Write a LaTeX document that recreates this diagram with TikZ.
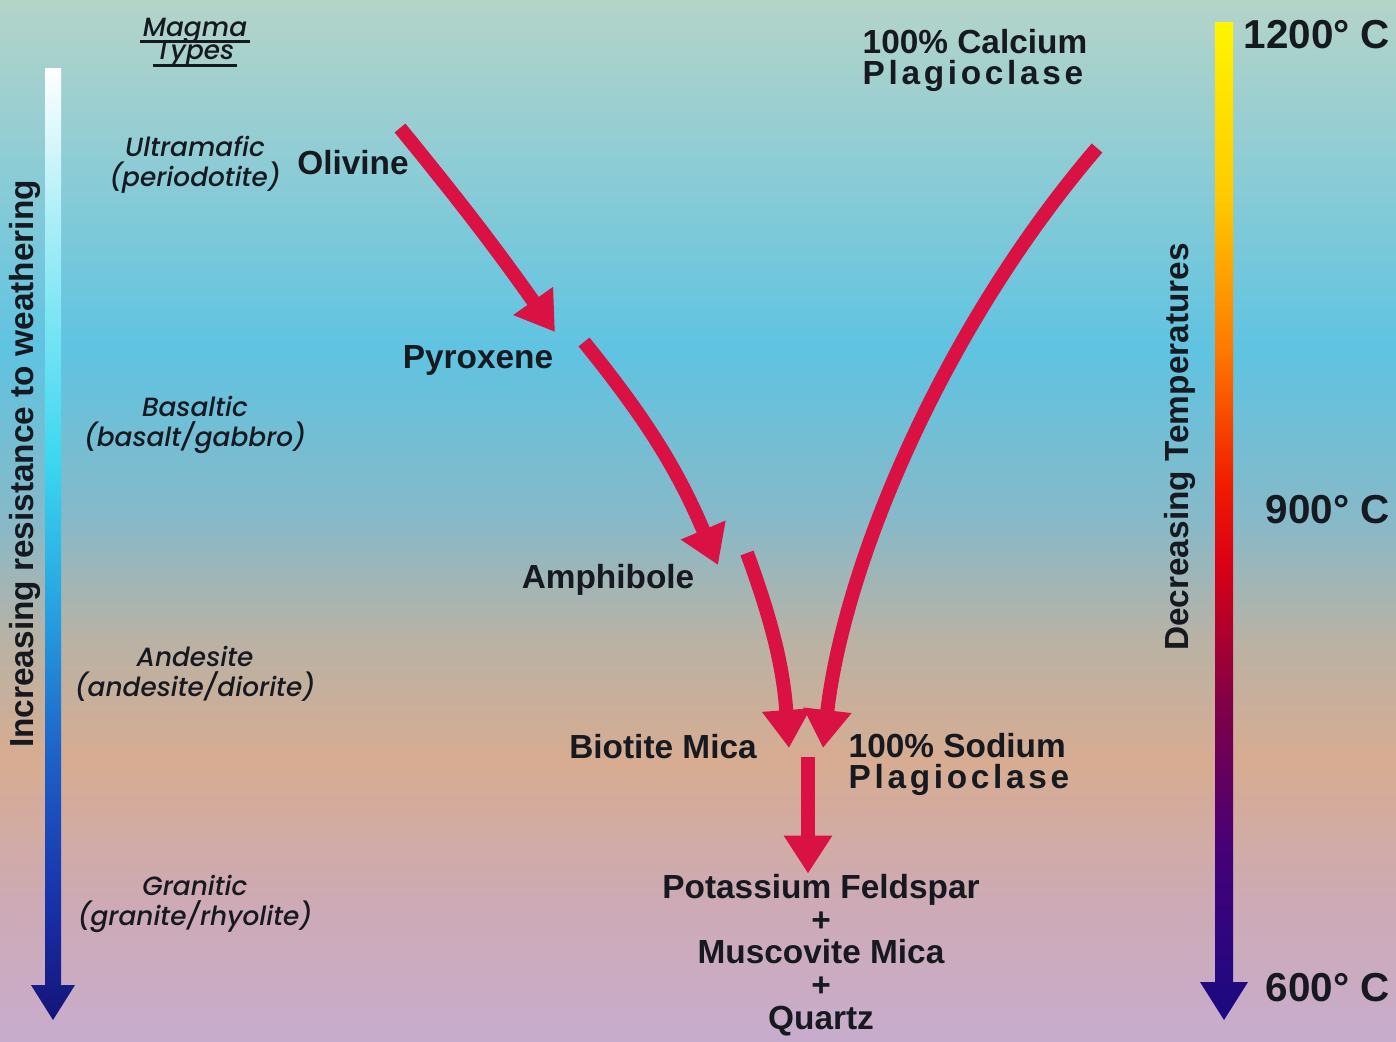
\documentclass[tikz,border=0pt]{standalone}
\usepackage{fontspec}
\setmainfont{Liberation Sans}
\newfontfamily\magmafont{Poppins}[UprightFont=* Medium, ItalicFont=* Medium Italic, BoldFont=* SemiBold, BoldItalicFont=* SemiBold Italic]
\newfontfamily\spacedfont{Liberation Sans}[LetterSpace=11]
\usetikzlibrary{positioning,arrows.meta}

\definecolor{flowred}{RGB}{218,18,68}
\definecolor{inkdark}{RGB}{22,26,32}
% backdrop colours, bottom to top
\definecolor{bgA}{RGB}{200,172,205}
\definecolor{bgB}{RGB}{205,170,180}
\definecolor{bgC}{RGB}{215,172,145}
\definecolor{bgD}{RGB}{185,178,165}
\definecolor{bgE}{RGB}{135,185,200}
\definecolor{bgF}{RGB}{95,195,225}
\definecolor{bgG}{RGB}{145,205,212}
\definecolor{bgH}{RGB}{180,212,200}
\pgfdeclareverticalshading{backdrop}{100bp}{color(0bp)=(bgA); color(25bp)=(bgA); color(31.8bp)=(bgB); color(38.5bp)=(bgC); color(44.3bp)=(bgD); color(50bp)=(bgE); color(58.2bp)=(bgF); color(67.8bp)=(bgG); color(75bp)=(bgH); color(100bp)=(bgH)}
% weathering bar
\definecolor{wbA}{RGB}{20,20,120}
\definecolor{wbB}{RGB}{25,50,170}
\definecolor{wbC}{RGB}{30,100,200}
\definecolor{wbD}{RGB}{40,165,225}
\definecolor{wbE}{RGB}{60,215,240}
\definecolor{wbF}{RGB}{170,238,248}
\pgfdeclareverticalshading{coolbar}{100bp}{color(0bp)=(wbA); color(25bp)=(wbA); color(31.3bp)=(wbB); color(39.2bp)=(wbC); color(47bp)=(wbD); color(54.4bp)=(wbE); color(67bp)=(wbF); color(75bp)=(white); color(100bp)=(white)}
% temperature bar
\definecolor{tbA}{RGB}{25,10,130}
\definecolor{tbB}{RGB}{70,0,120}
\definecolor{tbC}{RGB}{130,0,70}
\definecolor{tbD}{RGB}{220,0,20}
\definecolor{tbE}{RGB}{240,30,0}
\definecolor{tbF}{RGB}{255,120,0}
\definecolor{tbG}{RGB}{255,200,0}
\definecolor{tbH}{RGB}{255,245,0}
\pgfdeclareverticalshading{heatbar}{100bp}{color(0bp)=(tbA); color(25bp)=(tbA); color(33.5bp)=(tbB); color(41bp)=(tbC); color(48bp)=(tbD); color(52bp)=(tbE); color(58.5bp)=(tbF); color(66bp)=(tbG); color(75bp)=(tbH); color(100bp)=(tbH)}

\begin{document}
\begin{tikzpicture}[
x=0.1mm, y=-0.1mm,
mineral/.style={font=\bfseries\fontsize{9.5}{8.8}\selectfont, text=inkdark, inner sep=0pt, align=center},
magma/.style={font=\magmafont\itshape\fontsize{7.5}{8.5}\selectfont, text=inkdark, inner sep=0pt, align=center},
temp/.style={font=\bfseries\fontsize{11.5}{13}\selectfont, text=inkdark, inner sep=0pt, anchor=west},
flow/.style={draw=flowred, line width=1.4mm, -{Triangle[length=3.8mm,width=4.6mm]}},
rule/.style={draw=inkdark, line width=0.3mm}
]

\shade[shading=backdrop] (0,0) rectangle (1396,1041);
\useasboundingbox (0,0) rectangle (1396,1041);

% the two side bars
\shade[shading=coolbar] (45,68) -- (61,68) -- (61,985) -- (75,985) -- (53,1020) -- (31,985) -- (45,985) -- cycle;
\shade[shading=heatbar] (1215,22) -- (1233,22) -- (1233,982) -- (1248,982) -- (1224,1020) -- (1200,982) -- (1215,982) -- cycle;

\node[mineral, rotate=90] (resistance) at (25,464) {Increasing resistance to weathering};
\node[mineral, rotate=90] (decreasing) at (1180,447) {Decreasing Temperatures};

\node[temp] (t1200) at (1243,35) {1200° C};
\node[temp] (t900) at (1265,510) {900° C};
\node[temp] (t600) at (1265,988) {600° C};

% magma types
\node[magma, anchor=base] (magmaword) at (195,36) {Magma};
\node[magma, anchor=base] (types) at (195,59) {Types};
\draw[rule] ([shift={(-2,5)}]magmaword.base west) -- ([shift={(2,5)}]magmaword.base east);
\draw[rule] ([shift={(-2,6)}]types.base west) -- ([shift={(2,6)}]types.base east);
\node[magma] (ultramafic) at (195,165) {Ultramafic\\(periodotite)};
\node[magma] (basaltic) at (195,425) {Basaltic\\(basalt/gabbro)};
\node[magma] (andesite) at (195,674) {Andesite\\(andesite/diorite)};
\node[magma] (granitic) at (195,904) {Granitic\\(granite/rhyolite)};

% minerals
\node[mineral] (olivine) at (353,163) {Olivine};
\node[mineral] (pyroxene) at (478,360) {Pyroxene};
\node[mineral] (amphibole) at (608,580) {Amphibole};
\node[mineral] (biotite) at (663,747) {Biotite Mica};
\node[mineral, align=left, anchor=west] (calcium) at (862,60) {100\% Calcium\\{\spacedfont Plagioclase}};
\node[mineral, align=left, anchor=west] (sodium) at (848,764) {100\% Sodium\\{\spacedfont Plagioclase}};
\node[mineral, font=\bfseries\fontsize{9.5}{9.3}\selectfont] (potassium) at (821,955) {Potassium Feldspar\\+\\Muscovite Mica\\+\\Quartz};

\coordinate (merge) at ([shift={(-40,-7)}]sodium.west);

\draw[flow] ([shift={(47,-35)}]olivine.center) to[bend left=2] ([shift={(77,-28)}]pyroxene.center);
\draw[flow] ([shift={(106,-18)}]pyroxene.center) to[bend left=8] ([shift={(110,-15)}]amphibole.center);
\draw[flow] ([shift={(139,-27)}]amphibole.center) to[bend left=8] ([shift={(126,1)}]biotite.center);
\draw[flow] ([shift={(235,88)}]calcium.west) .. controls +(-150,175) and +(22,-190) .. ([shift={(-25,-16)}]sodium.west);
\draw[flow] (merge) -- (merge |- potassium.north);

\end{tikzpicture}
\end{document}
